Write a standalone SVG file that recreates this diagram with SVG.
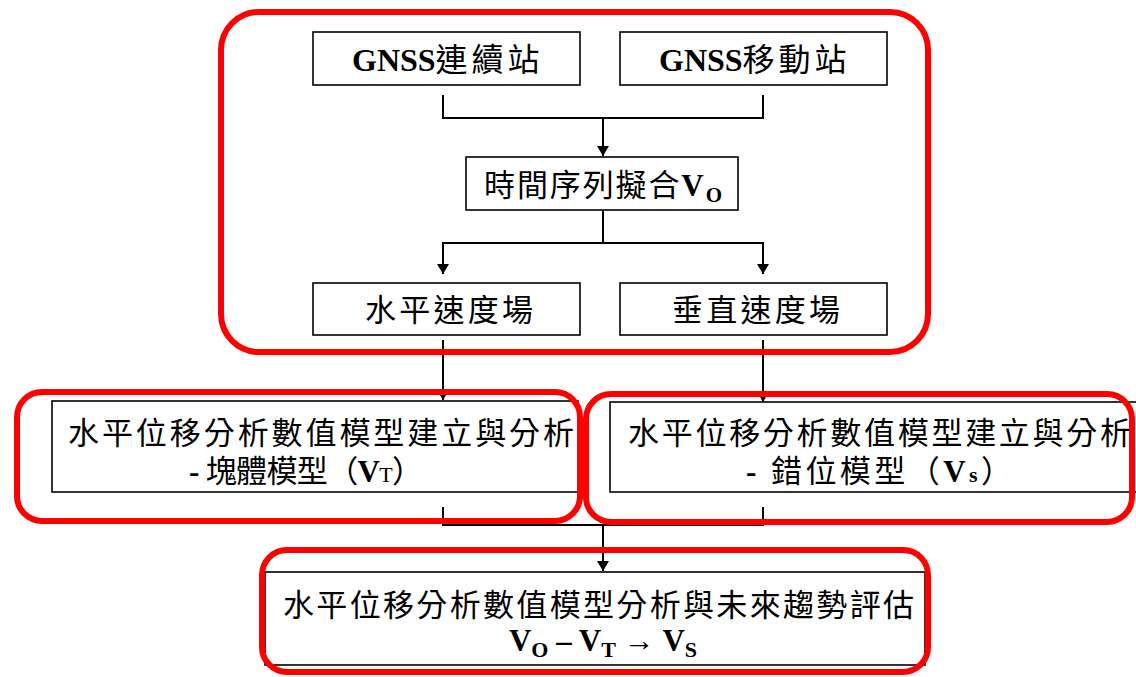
<svg xmlns="http://www.w3.org/2000/svg" width="1136" height="677" viewBox="0 0 1136 677">
<defs>
<style>
.box{fill:#fff;stroke:#000;stroke-width:1.6}
.red{fill:none;stroke:#ff0000;stroke-width:6}
.ln{fill:none;stroke:#000;stroke-width:2}
.t{font-family:"Liberation Serif","Noto Sans CJK TC",serif;font-size:31px;fill:#000}
.b{font-weight:bold}
</style>
<marker id="ah" viewBox="0 0 10 12" refX="10" refY="6" markerWidth="12" markerHeight="12" markerUnits="userSpaceOnUse" orient="auto">
<path d="M0,0 L10,6 L0,12 z" fill="#000"/>
</marker>
</defs>
<rect width="1136" height="677" fill="#fff"/>
<g id="connectors">
<path class="ln" d="M443,95 V118 H763 V95"/>
<path class="ln" d="M603,118 V156" marker-end="url(#ah)"/>
<path class="ln" d="M603,210 V243"/>
<path class="ln" d="M443,243 H763"/>
<path class="ln" d="M443,242 V274" marker-end="url(#ah)"/>
<path class="ln" d="M763,242 V274" marker-end="url(#ah)"/>
<path class="ln" d="M443,340 V400" marker-end="url(#ah)"/>
<path class="ln" d="M763,340 V402" marker-end="url(#ah)"/>
<path class="ln" d="M443,507 V525 H763 V507"/>
<path class="ln" d="M603,525 V571" marker-end="url(#ah)"/>
</g>
<g id="n1"><rect class="box" x="313" y="32" width="267" height="53"/>
<text class="t" x="352" y="71"><tspan class="b" font-size="32">GNSS</tspan><tspan font-size="32" letter-spacing="4">連續站</tspan></text></g>
<g id="n2"><rect class="box" x="620" y="32" width="267" height="53"/>
<text class="t" x="659" y="71"><tspan class="b" font-size="32">GNSS</tspan><tspan font-size="32" letter-spacing="4">移動站</tspan></text></g>
<g id="n3"><rect class="box" x="466" y="157" width="272" height="53"/>
<text class="t" x="484" y="196" textLength="238" lengthAdjust="spacing">時間序列擬合<tspan class="b">V</tspan><tspan class="b" font-size="21" dy="6">O</tspan></text></g>
<g id="n4"><rect class="box" x="313" y="283" width="267" height="52"/>
<text class="t" x="365" y="321" textLength="168" lengthAdjust="spacing">水平速度場</text></g>
<g id="n5"><rect class="box" x="620" y="283" width="267" height="52"/>
<text class="t" x="672" y="321" textLength="168" lengthAdjust="spacing">垂直速度場</text></g>
<g id="n6"><rect class="box" x="52" y="401" width="526" height="91"/>
<text class="t" x="68" y="444" textLength="506" lengthAdjust="spacing">水平位移分析數值模型建立與分析</text>
<text class="t" x="189" y="482" textLength="234" lengthAdjust="spacing"><tspan class="b">-</tspan> 塊體模型（<tspan class="b">V</tspan><tspan font-size="22">T</tspan>）</text></g>
<g id="n7"><rect class="box" x="610" y="402" width="540" height="90"/>
<text class="t" x="628" y="444" textLength="503" lengthAdjust="spacing">水平位移分析數值模型建立與分析</text>
<text class="t" x="746" y="482" textLength="266" lengthAdjust="spacing"><tspan class="b">-</tspan> 錯位模型（<tspan class="b">V</tspan><tspan class="b" font-size="22">s</tspan>）</text></g>
<g id="n8"><rect class="box" x="265" y="572" width="660" height="93"/>
<text class="t" x="283" y="616" textLength="631" lengthAdjust="spacing">水平位移分析數值模型分析與未來趨勢評估</text>
<text class="t b" x="603" y="651" text-anchor="middle" font-size="33">V<tspan font-size="22" dy="6">O</tspan><tspan dy="-6"> – V</tspan><tspan font-size="22" dy="6">T</tspan><tspan dy="-6" font-weight="normal"> → </tspan>V<tspan font-size="22" dy="6">S</tspan></text></g>
<g id="groups">
<rect class="red" x="221" y="12" width="707" height="340" rx="38"/>
<rect class="red" x="17" y="392" width="563" height="129" rx="25"/>
<rect class="red" x="586" y="394" width="546" height="128" rx="25"/>
<rect class="red" x="262" y="550" width="666" height="122" rx="25"/>
</g>
</svg>
